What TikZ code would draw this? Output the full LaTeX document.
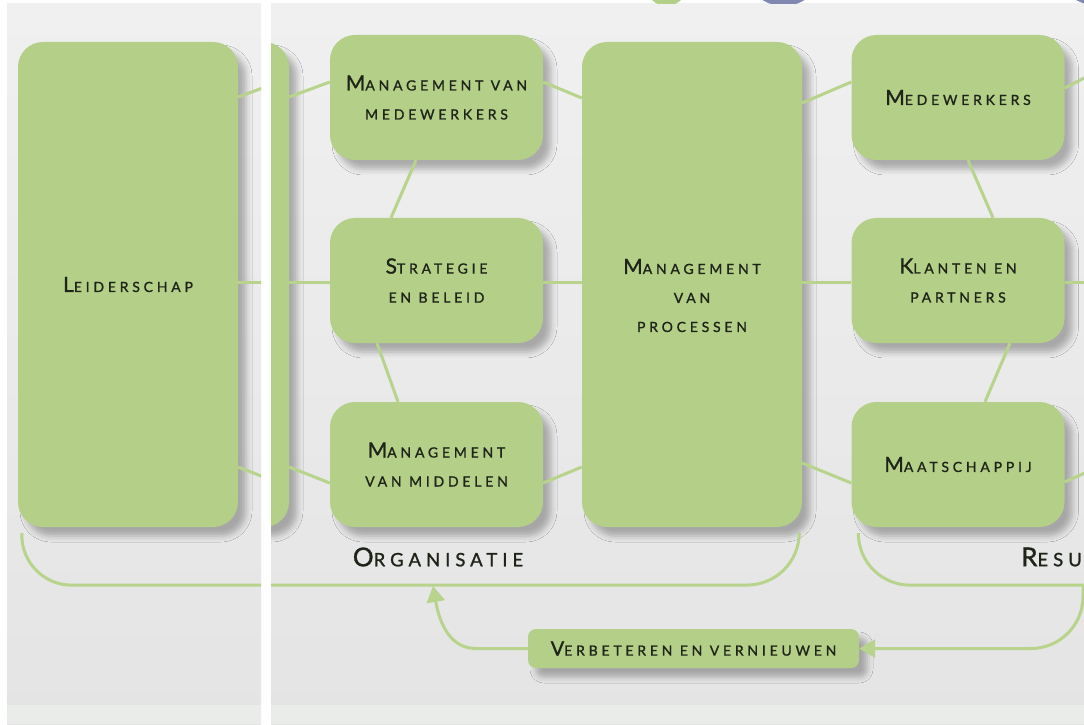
\documentclass[tikz,border=0pt]{standalone}
\usepackage{fontspec}
\newfontfamily\capfont{Lato}[LetterSpace=27, FakeBold=1.2]
\usetikzlibrary{arrows.meta,shadows.blur}

\definecolor{boxgreen}{HTML}{B4D088}
\definecolor{linkgreen}{HTML}{B8D38C}
\definecolor{inkdark}{HTML}{1F2419}
\definecolor{bgtop}{HTML}{F0F0F0}
\definecolor{bgbot}{HTML}{E4E4E4}
\definecolor{bgband}{HTML}{EAECEA}
\definecolor{topblue}{HTML}{8088B2}

% first letter as a big capital, the rest as small capitals
\newcommand\kap[3][21]{{\fontsize{#1}{29}\selectfont #2}\MakeUppercase{#3}}
\newcommand\kl[1]{\MakeUppercase{#1}}

\tikzset{
  boxtext/.style={align=center, text=inkdark, font=\capfont\fontsize{14}{29}\selectfont},
  box/.style={boxtext, rounded corners=25pt, fill=boxgreen, inner sep=0pt,
    blur shadow={shadow xshift=8pt, shadow yshift=-9pt, shadow blur radius=6pt, shadow opacity=28}},
  tallbox/.style={box, minimum width=220pt, minimum height=485pt},
  smallbox/.style={box, minimum width=213pt, minimum height=125pt},
  verbbox/.style={box, rounded corners=8pt, font=\capfont\fontsize{14}{20}\selectfont,
    minimum width=331pt, minimum height=39pt},
  paneltitle/.style={text=inkdark, inner sep=0pt, font=\capfont\fontsize{18.5}{24}\selectfont},
  link/.style={draw=linkgreen, line width=3pt},
  linkarrow/.style={link, -{Triangle[length=16pt,width=18pt]}},
}

\begin{document}
\begin{tikzpicture}[x=1pt,y=1pt]
  \useasboundingbox (0,0) rectangle (1084,724);
  \fill[white] (0,0) rectangle (1084,724);

  % background of the two crops
  \shade[top color=bgtop, bottom color=bgbot] (7,0) rectangle (261,720);
  \shade[top color=bgtop, bottom color=bgbot] (271,0) rectangle (1084,720);
  \fill[bgband] (7,0) rectangle (261,19);
  \fill[bgband] (271,0) rectangle (1084,19);

  % shapes peeking in at the top edge
  \begin{scope}
    \clip (271,720) rectangle (1084,724);
    \fill[boxgreen] (666.5,742) ellipse [x radius=22, y radius=24];
    \fill[topblue] (783.5,750) ellipse [x radius=36, y radius=32];
    \fill[topblue] (1095,745) ellipse [x radius=32, y radius=26];
  \end{scope}

  % left crop
  \begin{scope}
    \clip (7,0) rectangle (261,720);
    \node[tallbox] (lead) at (128,439.5) {\kap{L}{eiderschap}};
    \coordinate (lm1) at (279,642);
    \coordinate (lm2) at (279,441);
    \coordinate (lm3) at (279,241);
    \draw[link] ([yshift=187.5pt]lead.east) -- (lm1);
    \draw[link] ([yshift=1.5pt]lead.east) -- (lm2);
    \draw[link] ([yshift=-182.5pt]lead.east) -- (lm3);
    \draw[link, rounded corners=50pt] ([xshift=4pt,yshift=-6pt]lead.south west) -- ++(0,-52) -- (275,139);
  \end{scope}

  % right crop
  \begin{scope}
    \clip (271,0) rectangle (1084,720);
    \node[tallbox] (leadcut) at (179,439.5) {};
    \node[smallbox] (mvm) at (436.5,626.5) {\kap{M}{anagement van}\\\kl{medewerkers}};
    \node[smallbox] (strat) at (436.5,443.5) {\kap{S}{trategie}\\\kl{en beleid}};
    \node[smallbox] (mmid) at (436.5,259.5) {\kap{M}{anagement}\\\kl{van middelen}};
    \node[tallbox] (proc) at (692,439.5) {};
    \node[boxtext] (proctxt) at ([yshift=-11pt]proc.center) {\kap{M}{anagement}\\\kl{van}\\\kl{processen}};
    \node[smallbox] (medew) at (958,626.5) {\kap{M}{edewerkers}};
    \node[smallbox] (klant) at (958,443.5) {\kap{K}{lanten en}\\\kl{partners}};
    \node[smallbox] (maat) at (958,259.5) {\kap{M}{aatschappij}};
    \node[verbbox] (verb) at (693.5,75.5) {\kap[20]{V}{erbeteren en vernieuwen}};
    \node[paneltitle] (orgtxt) at (438,167) {\kap[26]{O}{rganisatie}};
    \node[paneltitle, anchor=west] (restxt) at (1021,167) {\kap[26]{R}{esu}};

    % connectors between the columns
    \draw[link] ([yshift=187.5pt]leadcut.east) -- ([yshift=15.5pt]mvm.west);
    \draw[link] ([yshift=1.5pt]leadcut.east) -- ([yshift=-2.5pt]strat.west);
    \draw[link] ([yshift=-182.5pt]leadcut.east) -- ([yshift=-18.5pt]mmid.west);
    \draw[link] ([yshift=15.5pt]mvm.east) -- ([yshift=186.5pt]proc.west);
    \draw[link] ([yshift=-2.5pt]strat.east) -- ([yshift=1.5pt]proc.west);
    \draw[link] ([yshift=-18.5pt]mmid.east) -- ([yshift=-182.5pt]proc.west);
    \draw[link] ([yshift=181.5pt]proc.east) -- ([yshift=15.5pt]medew.west);
    \draw[link] ([yshift=1.5pt]proc.east) -- ([yshift=-2.5pt]klant.west);
    \draw[link] ([yshift=-178.5pt]proc.east) -- ([yshift=-18.5pt]maat.west);
    % connectors within a column
    \draw[link] ([xshift=-20.5pt]mvm.south) -- ([xshift=-45.5pt]strat.north);
    \draw[link] ([xshift=-59.5pt]strat.south) -- ([xshift=-38.5pt]mmid.north);
    \draw[link] ([xshift=10pt]medew.south) -- ([xshift=35pt]klant.north);
    \draw[link] ([xshift=52pt]klant.south) -- ([xshift=27pt]maat.north);
    % connectors leaving the crop
    \coordinate (out1) at (1094,651);
    \coordinate (out2) at (1094,441);
    \coordinate (out3) at (1094,255);
    \draw[link] ([yshift=9.5pt]medew.east) -- (out1);
    \draw[link] ([yshift=-2.5pt]klant.east) -- (out2);
    \draw[link] ([yshift=-17.5pt]maat.east) -- (out3);

    % brackets under the groups
    \draw[link, rounded corners=52pt] ([xshift=4pt,yshift=-6pt]leadcut.south west) -- ++(0,-52)
      -- ([xshift=-3pt]proc.south east |- 0,139) -- ([xshift=-3pt,yshift=-6pt]proc.south east);
    \draw[link, rounded corners=52pt] ([xshift=7pt,yshift=-6pt]maat.south west) -- ++(0,-52) -- (1100,139);

    % feedback loop
    \coordinate (fbtop) at (1083,139);
    \coordinate (orgin) at (433,138);
    \draw[linkarrow, rounded corners=52pt] (fbtop) |- (verb.east);
    \draw[linkarrow] (verb.west) -- ++(-52,0) to[out=180,in=-80] (orgin);
  \end{scope}
\end{tikzpicture}
\end{document}
